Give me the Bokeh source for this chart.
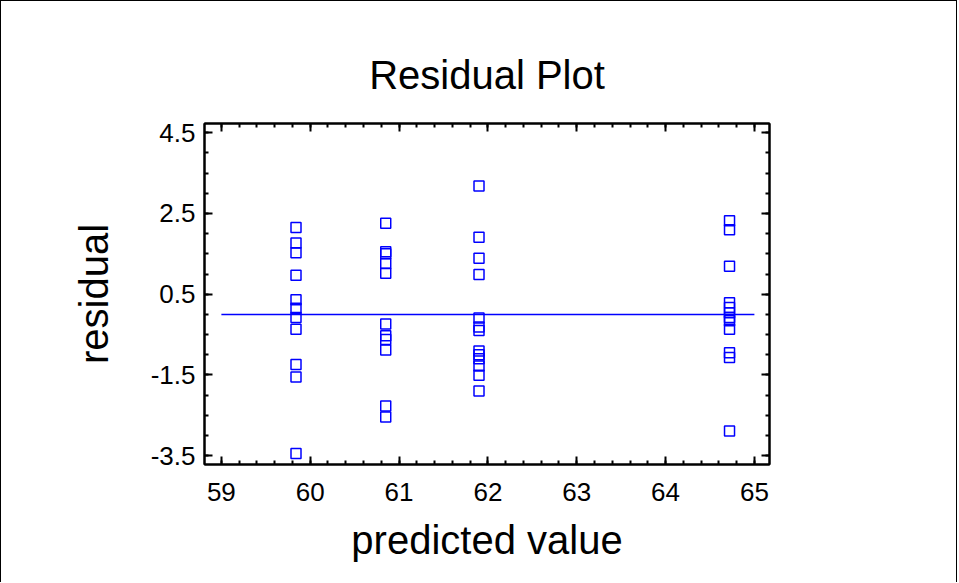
import numpy as np
from bokeh.plotting import figure
from bokeh.models import FixedTicker, LinearAxis, Range1d
from bokeh.embed import file_html
from bokeh.resources import INLINE

# ---- data ----
pred_g1 = 59.84
res_g1 = [2.15, 1.77, 1.53, 0.97, 0.36, 0.15, -0.08, -0.37, -1.24, -1.55, -3.45]
pred_g2 = 60.85
res_g2 = [2.26, 1.55, 1.50, 1.26, 1.02, -0.24, -0.53, -0.62, -0.88, -2.27, -2.54]
pred_g3 = 61.90
res_g3 = [3.18, 1.91, 1.39, 0.99, -0.09, -0.31, -0.40, -0.91, -1.00, -1.10, -1.28, -1.51, -1.90]
pred_g4 = 64.72
res_g4 = [2.32, 2.10, 1.19, 0.29, 0.17, 0.04, -0.08, -0.16, -0.37, -0.95, -1.07, -2.89]

zero_line_x = [59.0, 65.0]
zero_line_y = [0.0, 0.0]

x_ticks = [59, 60, 61, 62, 63, 64, 65]
y_ticks = [-3.5, -1.5, 0.5, 2.5, 4.5]
y_tick_labels = ["-3.5", "-1.5", "0.5", "2.5", "4.5"]

title_text = "Residual Plot"
x_label = "predicted value"
y_label = "residual"

predicted = ([pred_g1] * len(res_g1) + [pred_g2] * len(res_g2)
             + [pred_g3] * len(res_g3) + [pred_g4] * len(res_g4))
residual = res_g1 + res_g2 + res_g3 + res_g4

FONT = "Liberation Sans"
BLUE = "#0000FF"

x_minor = list(np.round(np.arange(58.8, 65.21, 0.2), 2))
y_minor = list(np.round(np.arange(-3.5, 4.51, 0.5), 2))

p = figure(width=957, height=582, output_backend="svg", toolbar_location=None,
           title=title_text,
           x_range=Range1d(58.81, 65.17), y_range=Range1d(-3.72, 4.73),
           min_border_left=203, min_border_right=189, min_border_top=122,
           min_border_bottom=119)
p.styles = {"border-left": "1px solid black", "border-top": "1px solid black",
            "border-right": "1px solid black"}
p.grid.visible = False
p.outline_line_color = "black"
p.outline_line_width = 2
p.background_fill_color = "white"
p.border_fill_color = "white"

p.title.text_font = FONT
p.title.text_font_size = "40px"
p.title.text_font_style = "normal"
p.title.text_color = "black"
p.title.align = "center"
p.title.standoff = 53

p.line(zero_line_x, zero_line_y, line_color=BLUE, line_width=1.5)
p.scatter(predicted, residual, marker="square", size=10, fill_color=None,
          line_color=BLUE, line_width=1.5)


def style_axis(ax, ticks, minor, show_labels=True):
    ax.ticker = FixedTicker(ticks=ticks, minor_ticks=minor)
    ax.axis_line_color = "black"
    ax.axis_line_width = 2
    ax.major_tick_line_color = "black"
    ax.major_tick_line_width = 2
    ax.minor_tick_line_color = "black"
    ax.minor_tick_line_width = 2
    ax.major_tick_in = 8
    ax.major_tick_out = 0
    ax.minor_tick_in = 4
    ax.minor_tick_out = 0
    if show_labels:
        ax.major_label_text_font = FONT
        ax.major_label_text_font_size = "26px"
        ax.major_label_text_color = "black"
        ax.axis_label_text_font = FONT
        ax.axis_label_text_font_size = "40px"
        ax.axis_label_text_font_style = "normal"
        ax.axis_label_text_color = "black"
    else:
        ax.major_label_overrides = {t: "" for t in ticks}
        ax.major_label_standoff = 0


style_axis(p.xaxis[0], x_ticks, x_minor)
style_axis(p.yaxis[0], y_ticks, y_minor)
p.yaxis[0].major_label_overrides = dict(zip(y_ticks, y_tick_labels))
p.xaxis[0].axis_label = x_label
p.yaxis[0].axis_label = y_label
p.xaxis[0].major_label_standoff = 18
p.yaxis[0].major_label_standoff = 9
p.xaxis[0].axis_label_standoff = 14
p.yaxis[0].axis_label_standoff = 32

top_ax = LinearAxis()
style_axis(top_ax, x_ticks, x_minor, show_labels=False)
p.add_layout(top_ax, "above")
right_ax = LinearAxis()
style_axis(right_ax, y_ticks, y_minor, show_labels=False)
p.add_layout(right_ax, "right")

open("out.html", "w").write(file_html(p, INLINE))
